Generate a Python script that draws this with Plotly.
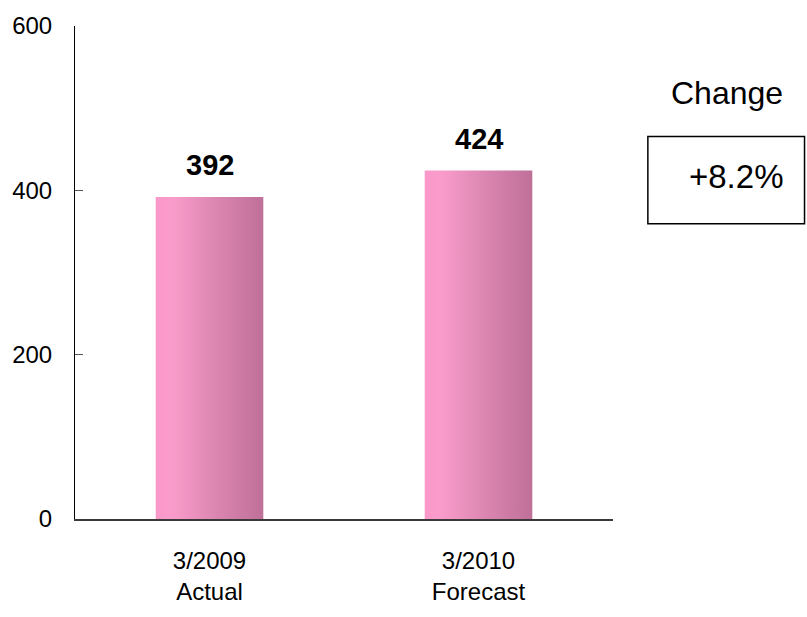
import plotly.graph_objects as go

# Data
categories = ["3/2009<br>Actual", "3/2010<br>Forecast"]
values = [392, 424]
value_labels = ["392", "424"]
change_label = "+8.2%"
change_title = "Change"
y_ticks = [0, 200, 400, 600]

BAR_WIDTH = 0.4
FONT = "Arial, Liberation Sans, sans-serif"
gradient = [[0.0, "#FA98C9"], [0.15, "#FA9CCB"], [0.6, "#D884AF"], [1.0, "#BF7098"]]

fig = go.Figure()

# Bars drawn as filled rectangles so they can carry a horizontal gradient
for i, v in enumerate(values):
    x0, x1 = i - BAR_WIDTH / 2, i + BAR_WIDTH / 2
    fig.add_trace(go.Scatter(
        x=[x0, x0, x1, x1, x0],
        y=[0, v, v, 0, 0],
        mode="lines",
        fill="toself",
        fillgradient=dict(type="horizontal", colorscale=gradient),
        line=dict(width=0),
        hoverinfo="skip",
        showlegend=False,
    ))
    fig.add_annotation(
        x=i, y=v, xref="x", yref="y",
        text=f"<b>{value_labels[i]}</b>",
        showarrow=False, yanchor="middle", yshift=32,
        font=dict(family=FONT, size=29, color="#000000"),
    )

# Change box on the right
fig.add_shape(
    type="rect", xref="paper", yref="paper",
    x0=1.0648, x1=1.356, y0=0.599, y1=0.776,
    line=dict(color="#000000", width=1.5),
    fillcolor="rgba(0,0,0,0)",
)
fig.add_annotation(
    x=1.211, y=0.864, xref="paper", yref="paper",
    text=change_title, showarrow=False,
    xanchor="center", yanchor="middle",
    font=dict(family=FONT, size=32, color="#000000"),
)
fig.add_annotation(
    x=1.2296, y=0.6946, xref="paper", yref="paper",
    text=change_label, showarrow=False,
    xanchor="center", yanchor="middle",
    font=dict(family=FONT, size=33, color="#000000"),
)

fig.update_layout(
    width=807, height=617,
    margin=dict(l=73, r=194, t=21, b=82),
    paper_bgcolor="white",
    plot_bgcolor="white",
    showlegend=False,
    font=dict(family=FONT, color="#000000"),
)
fig.update_xaxes(
    range=[-0.5, 1.5],
    tickvals=list(range(len(categories))),
    ticktext=categories,
    showgrid=False, zeroline=False,
    showline=True, linecolor="#3a3a3a", linewidth=2,
    ticks="", ticklabelstandoff=19,
    tickfont=dict(family=FONT, size=24, color="#000000"),
)
fig.update_yaxes(
    range=[0, 600],
    tickvals=y_ticks,
    showgrid=False, zeroline=False,
    showline=True, linecolor="#000000", linewidth=1,
    ticks="inside", ticklen=8, tickcolor="#555555", tickwidth=1,
    ticklabelstandoff=17,
    tickfont=dict(family=FONT, size=24, color="#000000"),
)

fig.write_html("out.html")
